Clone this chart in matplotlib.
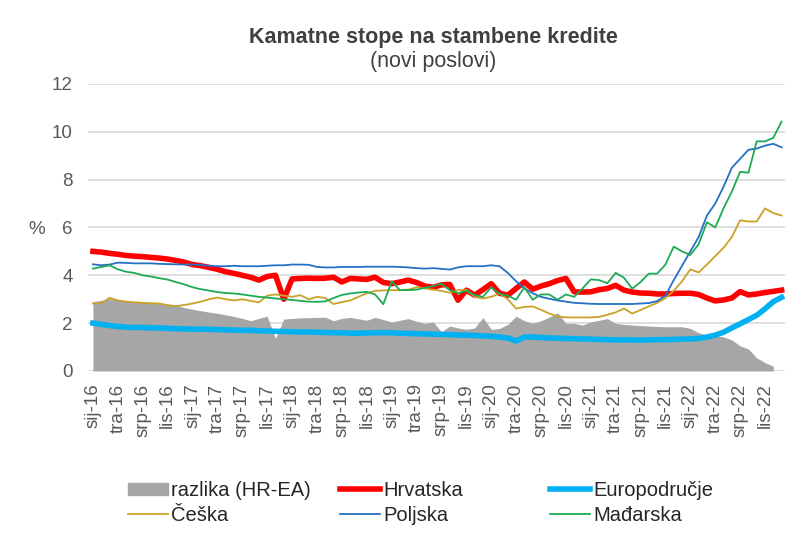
import numpy as np
import matplotlib
matplotlib.use("Agg")
import matplotlib.pyplot as plt
from matplotlib.lines import Line2D
from matplotlib.patches import Patch

plt.rcParams['font.family'] = ['Liberation Sans', 'DejaVu Sans']

# monthly data, sij-16 .. pro-22
months = ['sij', 'tra', 'srp', 'lis']
years = ['16', '17', '18', '19', '20', '21', '22']
tick_labels = [m + '-' + y for y in years for m in months]

hrvatska = [5.0, 4.97, 4.92, 4.88, 4.83, 4.8, 4.78, 4.75, 4.72, 4.68, 4.62, 4.55,
            4.45, 4.4, 4.33, 4.25, 4.15, 4.08, 4.0, 3.92, 3.8, 3.95, 4.0, 3.0,
            3.85, 3.87, 3.88, 3.87, 3.88, 3.92, 3.72, 3.87, 3.85, 3.83, 3.92, 3.7,
            3.65, 3.72, 3.8, 3.7, 3.55, 3.5, 3.6, 3.62, 2.96, 3.38, 3.17, 3.4,
            3.65, 3.25, 3.17, 3.45, 3.72, 3.42, 3.55, 3.65, 3.78, 3.87, 3.31, 3.3,
            3.31, 3.4, 3.45, 3.58, 3.38, 3.3, 3.26, 3.25, 3.22, 3.22, 3.24, 3.25,
            3.25, 3.2, 3.05, 2.93, 2.97, 3.05, 3.32, 3.18, 3.22, 3.28, 3.33, 3.38]

europodrucje = [2.0, 1.95, 1.9, 1.86, 1.83, 1.82, 1.82, 1.8, 1.8, 1.78, 1.77, 1.76,
                1.75, 1.75, 1.74, 1.73, 1.72, 1.71, 1.7, 1.7, 1.68, 1.67, 1.66, 1.65,
                1.64, 1.63, 1.63, 1.62, 1.61, 1.6, 1.6, 1.58, 1.58, 1.59, 1.6, 1.6,
                1.6, 1.58, 1.57, 1.56, 1.55, 1.54, 1.53, 1.52, 1.5, 1.5, 1.48, 1.47,
                1.45, 1.42, 1.38, 1.25, 1.42, 1.42, 1.4, 1.38, 1.37, 1.36, 1.35, 1.34,
                1.33, 1.32, 1.31, 1.3, 1.3, 1.3, 1.29, 1.3, 1.31, 1.31, 1.32, 1.33,
                1.34, 1.36, 1.42, 1.5, 1.62, 1.8, 1.97, 2.15, 2.33, 2.6, 2.9, 3.08]

razlika = [2.9, 2.95, 3.03, 2.95, 2.92, 2.9, 2.88, 2.86, 2.85, 2.8, 2.75, 2.65,
           2.58, 2.52, 2.46, 2.41, 2.35, 2.28, 2.2, 2.1, 2.2, 2.29, 1.36, 2.17,
           2.2, 2.22, 2.23, 2.24, 2.25, 2.1, 2.2, 2.24, 2.18, 2.12, 2.24, 2.15,
           2.05, 2.12, 2.19, 2.08, 1.99, 2.05, 1.64, 1.88, 1.8, 1.74, 1.8, 2.24,
           1.74, 1.78, 1.95, 2.29, 2.1, 1.99, 2.1, 2.25, 2.43, 2.0, 1.99, 1.92,
           2.05, 2.12, 2.19, 1.99, 1.95, 1.92, 1.9, 1.88, 1.86, 1.85, 1.85, 1.85,
           1.78, 1.6, 1.5, 1.47, 1.43, 1.3, 1.05, 0.92, 0.55, 0.35, 0.2]

ceska = [2.82, 2.83, 3.06, 2.95, 2.9, 2.87, 2.85, 2.83, 2.82, 2.75, 2.71, 2.76,
         2.82, 2.9, 3.0, 3.07, 3.0, 2.95, 3.0, 2.93, 2.87, 3.15, 3.2, 3.15,
         3.1, 3.17, 3.0, 3.1, 3.05, 2.8, 2.88, 2.95, 3.1, 3.25, 3.35, 3.37,
         3.38, 3.38, 3.4, 3.5, 3.45, 3.4, 3.35, 3.27, 3.38, 3.4, 3.1, 3.03,
         3.1, 3.24, 3.0, 2.61, 2.68, 2.7, 2.56, 2.4, 2.29, 2.24, 2.24, 2.24,
         2.24, 2.26, 2.35, 2.45, 2.61, 2.4, 2.55, 2.7, 2.85, 3.05, 3.35, 3.75,
         4.25, 4.12, 4.45, 4.8, 5.15, 5.6, 6.3, 6.25, 6.25, 6.8, 6.6, 6.5]

poljska = [4.46, 4.42, 4.45, 4.53, 4.52, 4.5, 4.5, 4.5, 4.48, 4.47, 4.46, 4.45,
           4.45, 4.43, 4.4, 4.38, 4.38, 4.4, 4.38, 4.38, 4.38, 4.4, 4.42, 4.42,
           4.45, 4.45, 4.44, 4.35, 4.33, 4.33, 4.35, 4.35, 4.35, 4.36, 4.36, 4.36,
           4.36, 4.35, 4.33, 4.3, 4.28, 4.3, 4.27, 4.24, 4.33, 4.38, 4.38, 4.38,
           4.42, 4.38, 4.1, 3.75, 3.45, 3.25, 3.1, 3.02, 2.95, 2.9, 2.85, 2.83,
           2.81, 2.8, 2.8, 2.8, 2.8, 2.8, 2.82, 2.84, 2.92, 3.15, 3.8, 4.4,
           5.0, 5.6, 6.5, 7.0, 7.7, 8.5, 8.87, 9.25, 9.3, 9.42, 9.5, 9.35]

madarska = [4.28, 4.35, 4.42, 4.25, 4.15, 4.1, 4.0, 3.95, 3.88, 3.82, 3.72, 3.62,
            3.5, 3.42, 3.36, 3.3, 3.26, 3.24, 3.2, 3.15, 3.1, 3.07, 3.03, 3.0,
            2.97, 2.93, 2.9, 2.89, 2.91, 3.05, 3.18, 3.24, 3.28, 3.31, 3.2, 2.79,
            3.75, 3.38, 3.38, 3.4, 3.48, 3.55, 3.65, 3.38, 3.25, 3.35, 3.18, 3.1,
            3.5, 3.22, 3.15, 2.98, 3.5, 2.98, 3.2, 3.2, 2.98, 3.2, 3.1, 3.45,
            3.83, 3.8, 3.67, 4.1, 3.9, 3.44, 3.72, 4.07, 4.07, 4.45, 5.2, 5.0,
            4.85, 5.3, 6.22, 6.0, 6.8, 7.5, 8.33, 8.29, 9.6, 9.6, 9.75, 10.43]

fig = plt.figure(figsize=(8.02, 5.45), dpi=100)
ax = fig.add_axes([0.1097, 0.3193, 0.869, 0.5266])

x = np.arange(len(hrvatska))
xg = np.arange(len(razlika))

ax.fill_between(xg, 0, razlika, color='#a6a6a6', linewidth=0)
ax.plot(x, hrvatska, color='#ff0000', lw=4.0, solid_joinstyle='round')
ax.plot(x, europodrucje, color='#00b0f0', lw=4.0, solid_joinstyle='round')
ax.plot(x, ceska, color='#c9a227', lw=1.3)
ax.plot(x, poljska, color='#2470c4', lw=1.3)
ax.plot(x, madarska, color='#1eaa55', lw=1.3)

ax.set_ylim(0, 12)
ax.set_yticks(np.arange(0, 13, 2))
ax.set_xlim(-0.6, 83.4)
ax.set_xticks(np.arange(0, len(hrvatska), 3))
ax.set_xticklabels(tick_labels, rotation=90)
ax.grid(axis='y', color='#d9d9d9', lw=1.2)
ax.set_axisbelow(True)
for s in ax.spines.values():
    s.set_visible(False)
ax.tick_params(length=0, labelsize=13.5, colors='#595959')
ax.tick_params(axis='y', pad=11)
ax.tick_params(axis='x', pad=9)

fig.text(0.035, 1 - 229 / 545, '%', fontsize=13.5, color='#595959', va='center')
fig.text(0.54, 1 - 38 / 545, 'Kamatne stope na stambene kredite', fontsize=15.5,
         fontweight='bold', color='#404040', ha='center', va='center')
fig.text(0.54, 1 - 62 / 545, '(novi poslovi)', fontsize=15.5, color='#404040',
         ha='center', va='center')

# legend: three columns placed by hand
cols = [
    (128, [Patch(color='#a6a6a6'), Line2D([], [], color='#c9a227', lw=1.3)],
     ['razlika (HR-EA)', 'Češka']),
    (340, [Line2D([], [], color='#ff0000', lw=4), Line2D([], [], color='#2470c4', lw=1.3)],
     ['Hrvatska', 'Poljska']),
    (550, [Line2D([], [], color='#00b0f0', lw=4), Line2D([], [], color='#1eaa55', lw=1.3)],
     ['Europodručje', 'Mađarska']),
]
for xpos, handles, labels in cols:
    fig.legend(handles, labels, loc='upper left',
               bbox_to_anchor=(xpos / 802, 1 - 481 / 545), frameon=False,
               fontsize=14.5, handlelength=2.0, handleheight=0.55,
               handletextpad=0.15, labelspacing=0.3, borderpad=0,
               borderaxespad=0, labelcolor='#262626')

fig.savefig('out.png', dpi=100)
